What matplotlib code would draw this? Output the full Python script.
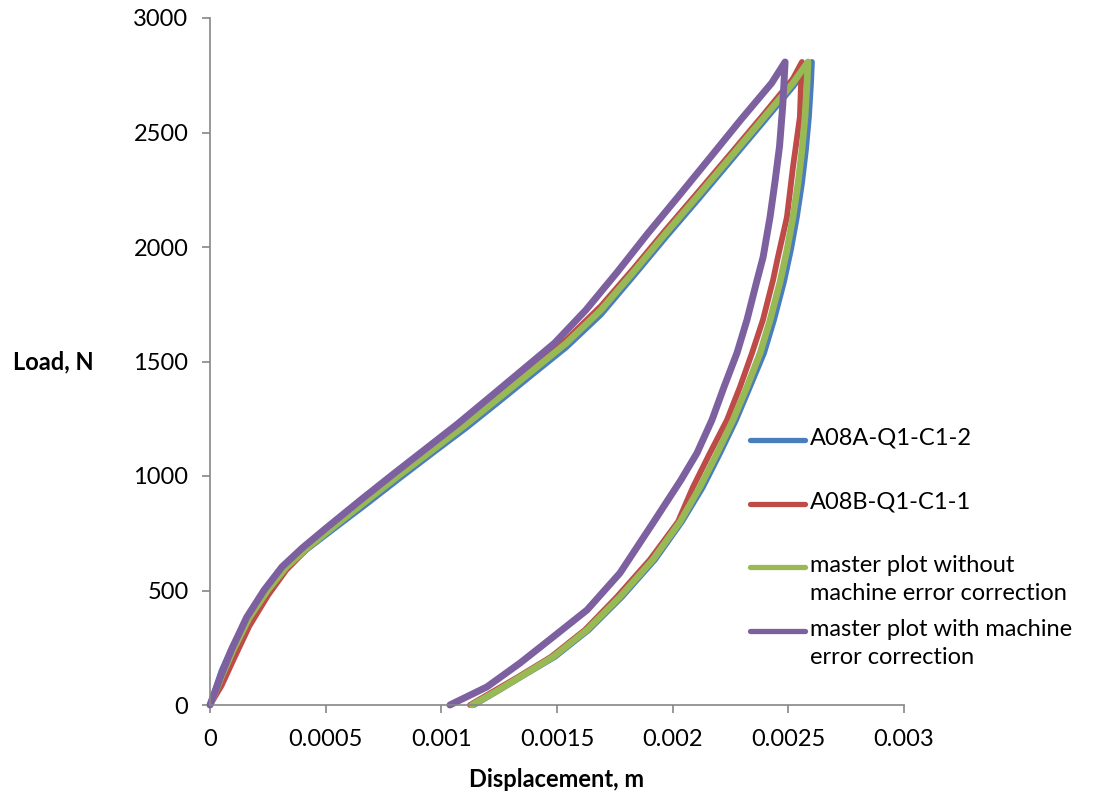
import matplotlib.pyplot as plt
from matplotlib.lines import Line2D

plt.rcParams['font.family'] = ['Lato', 'DejaVu Sans']

# loading branch then unloading branch (m, N)
a08a_x = [0, 0.00005, 0.0001, 0.00017, 0.00025, 0.00033, 0.00042, 0.00053, 0.00068,
          0.00082, 0.00096, 0.00111, 0.00125, 0.0014, 0.00154, 0.00169, 0.00183,
          0.00197, 0.00211, 0.00225, 0.00239, 0.00252, 0.002602,
          0.002598, 0.002589, 0.002576, 0.002559, 0.002537, 0.002511, 0.002481,
          0.002438, 0.002395, 0.002334, 0.002274, 0.002205, 0.002131, 0.00204,
          0.001924, 0.001781, 0.001638, 0.001491, 0.001344, 0.001239, 0.001141]
a08a_y = [0, 150, 262, 395, 510, 605, 680, 765, 880, 990, 1098, 1212, 1325, 1448,
          1562, 1705, 1872, 2042, 2207, 2375, 2543, 2700, 2808,
          2716, 2568, 2424, 2279, 2131, 1987, 1847, 1681, 1537, 1389, 1245, 1100,
          952, 800, 635, 472, 328, 210, 122, 58, 0]

a08b_x = [0, 0.00005, 0.0001, 0.00017, 0.00025, 0.00033, 0.00042, 0.00053, 0.00068,
          0.00082, 0.00096, 0.00111, 0.00125, 0.0014, 0.00154, 0.00169, 0.00183,
          0.00197, 0.00211, 0.00225, 0.00239, 0.00252, 0.002559,
          0.002555, 0.00255, 0.00252, 0.002494, 0.002455, 0.002434, 0.00239,
          0.002343, 0.002291, 0.002235, 0.002161, 0.002088, 0.002023, 0.001902,
          0.001759, 0.001621, 0.001474, 0.001331, 0.001124]
a08b_y = [0, 85, 195, 345, 478, 590, 682, 778, 900, 1012, 1120, 1238, 1352, 1478,
          1595, 1742, 1905, 2075, 2240, 2407, 2575, 2735, 2808,
          2716, 2568, 2349, 2131, 1956, 1856, 1681, 1537, 1389, 1245, 1100, 952,
          800, 635, 472, 328, 210, 122, 0]

master_x = [0, 0.00005, 0.0001, 0.00017, 0.00025, 0.00033, 0.00042, 0.00053, 0.00068,
            0.00082, 0.00096, 0.00111, 0.00125, 0.0014, 0.00154, 0.00169, 0.00183,
            0.00197, 0.00211, 0.00225, 0.00239, 0.00252, 0.002585,
            0.002581, 0.002572, 0.002559, 0.002542, 0.00252, 0.002494, 0.002464,
            0.002421, 0.002378, 0.002321, 0.002261, 0.002192, 0.002118, 0.002032,
            0.001915, 0.001772, 0.00163, 0.001483, 0.00134, 0.001235, 0.001133]
master_y = [0, 125, 240, 382, 502, 603, 685, 775, 895, 1005, 1112, 1228, 1342, 1465,
            1580, 1725, 1890, 2060, 2225, 2392, 2560, 2716, 2808,
            2716, 2568, 2424, 2279, 2131, 1987, 1847, 1681, 1537, 1389, 1245, 1100,
            952, 800, 635, 472, 328, 210, 122, 58, 0]

corr_x = [0, 0.000046, 0.000092, 0.000158, 0.000234, 0.000311, 0.000398, 0.000505,
          0.000651, 0.000788, 0.000924, 0.001071, 0.001207, 0.001353, 0.001489,
          0.001625, 0.00176, 0.001893, 0.002028, 0.002163, 0.002298, 0.002428, 0.002486,
          0.002476, 0.002462, 0.002443, 0.002421, 0.002391, 0.002365, 0.002321,
          0.002278, 0.002222, 0.00217, 0.002105, 0.002036, 0.001915, 0.001772,
          0.00163, 0.001483, 0.00134, 0.001197, 0.001037]
corr_y = [0, 125, 240, 382, 502, 603, 685, 775, 895, 1005, 1112, 1228, 1342, 1465,
          1580, 1725, 1890, 2060, 2225, 2392, 2560, 2716, 2808,
          2620, 2440, 2290, 2131, 1956, 1856, 1681, 1537, 1389, 1245, 1100, 983,
          795, 576, 415, 297, 183, 79, 0]

labels = ["A08A-Q1-C1-2", "A08B-Q1-C1-1",
          "master plot without\nmachine error correction",
          "master plot with machine\nerror correction"]
colors = ["#4A7EBB", "#BE4B48", "#98B954", "#7D60A0"]
widths = [4.2, 4.2, 4.8, 5.0]

x_ticks = [0, 0.0005, 0.001, 0.0015, 0.002, 0.0025, 0.003]
x_labels = ["0", "0.0005", "0.001", "0.0015", "0.002", "0.0025", "0.003"]
y_ticks = [0, 500, 1000, 1500, 2000, 2500, 3000]

W, H = 1095, 797
fig = plt.figure(figsize=(W / 100, H / 100), dpi=100)
ax = fig.add_axes([210 / W, 1 - 705 / H, 694 / W, 687 / H])

series = [(a08a_x, a08a_y), (a08b_x, a08b_y), (master_x, master_y), (corr_x, corr_y)]
for (xs, ys), c, lw in zip(series, colors, widths):
    ax.plot(xs, ys, color=c, lw=lw, solid_capstyle='round', solid_joinstyle='round',
            clip_on=False)

ax.set_xlim(0, 0.003)
ax.set_ylim(0, 3000)
ax.set_xticks(x_ticks)
ax.set_xticklabels(x_labels)
ax.set_yticks(y_ticks)

grey = "#868686"
for side in ("top", "right"):
    ax.spines[side].set_visible(False)
for side in ("left", "bottom"):
    ax.spines[side].set_color(grey)
    ax.spines[side].set_linewidth(1.2)
ax.tick_params(axis='both', colors=grey, labelcolor='black', width=1.2,
               length=5.5, labelsize=17, direction='out')
ax.tick_params(axis='x', pad=12)
ax.tick_params(axis='y', pad=10)

ax.set_xlabel("Displacement, m", fontsize=17, fontweight='bold', va='center')
ax.xaxis.set_label_coords(0.5, -0.109)
ax.set_ylabel("Load, N", fontsize=17, fontweight='bold', rotation=0,
              ha='center', va='center')
ax.yaxis.set_label_coords(-0.226, 0.499)

# legend drawn by hand so the handle sits on the first text line
leg_y = [440, 504, 567, 631]
for lab, c, yy in zip(labels, colors, leg_y):
    fig.add_artist(Line2D([750 / W, 805 / W], [1 - yy / H, 1 - yy / H], color=c,
                          lw=3.8, solid_capstyle='round'))
    fig.text(810 / W, 1 - (yy - 12) / H, lab, fontsize=17, va='top', ha='left',
             linespacing=1.4)

fig.savefig("out.png", dpi=100)
